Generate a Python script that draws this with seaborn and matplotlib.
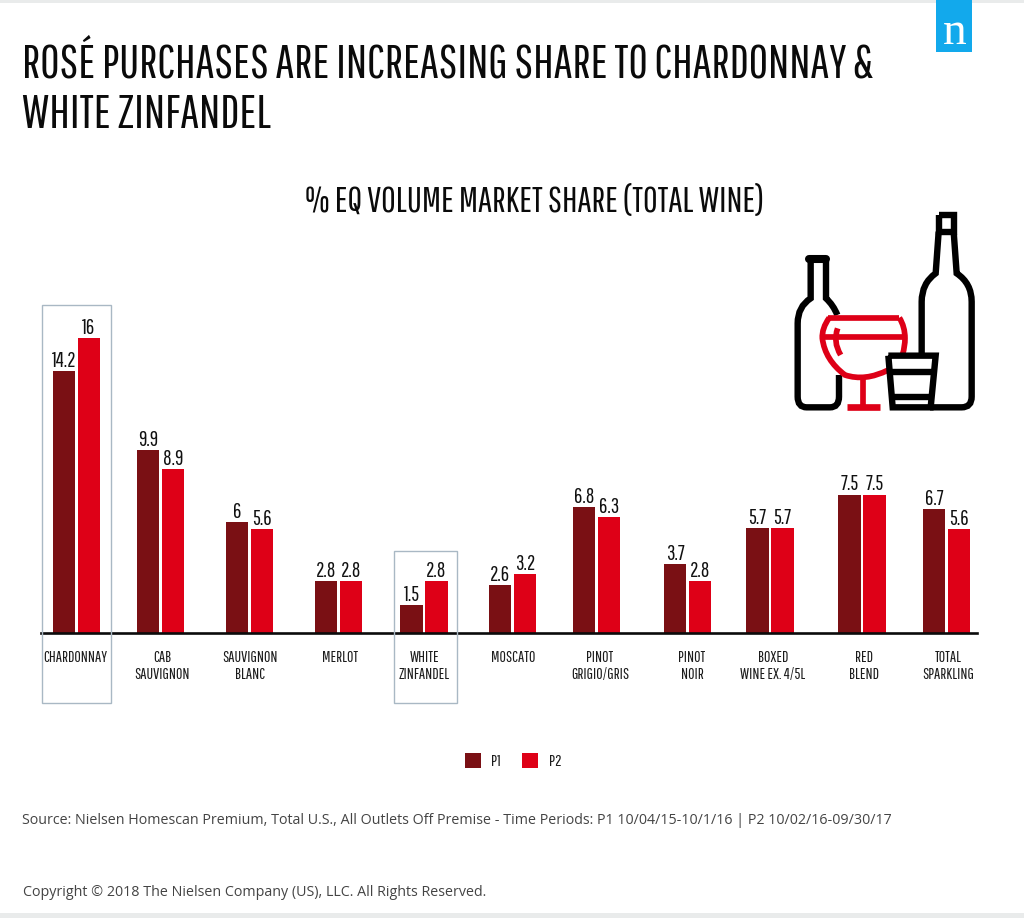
import matplotlib
matplotlib.use("Agg")
import matplotlib.pyplot as plt
from matplotlib.patches import PathPatch, Rectangle
from matplotlib.path import Path
import pandas as pd
import seaborn as sns

# ---- data ----
categories = ["CHARDONNAY", "CAB\nSAUVIGNON", "SAUVIGNON\nBLANC", "MERLOT", "WHITE\nZINFANDEL",
              "MOSCATO", "PINOT\nGRIGIO/GRIS", "PINOT\nNOIR", "BOXED\nWINE EX. 4/5L",
              "RED\nBLEND", "TOTAL\nSPARKLING"]
p1_values = [14.2, 9.9, 6, 2.8, 1.5, 2.6, 6.8, 3.7, 5.7, 7.5, 6.7]
p2_values = [16, 8.9, 5.6, 2.8, 2.8, 3.2, 6.3, 2.8, 5.7, 7.5, 5.6]
periods = ["P1", "P2"]

# ---- layout (figure pixels) ----
W, H = 1024, 918
group_centres = [76.5, 160.5, 249.5, 338.5, 424, 512.5, 596.5, 687.5, 770, 862, 946.5]
label_centres = [75, 162, 250.5, 340, 424.5, 513, 600, 692, 773, 864, 948]
AX_L, AX_R, BASE_Y, PX_PER_UNIT, YMAX = 41, 977, 632.5, 18.4, 20

sns.set_theme(style="white")
COND = ["Pathway Gothic One", "Bebas Neue", "Liberation Sans Narrow", "DejaVu Sans"]
OPEN = ["Open Sans", "DejaVu Sans"]
DARK, RED = "#7a1014", "#de0017"
BLACK = "#0b0b0b"

df = pd.DataFrame({
    "centre": group_centres * 2,
    "share": p1_values + p2_values,
    "period": [periods[0]] * len(p1_values) + [periods[1]] * len(p2_values),
})

fig = plt.figure(figsize=(W / 100, H / 100), dpi=100, facecolor="white")
ax_h = PX_PER_UNIT * YMAX
ax = fig.add_axes([AX_L / W, (H - BASE_Y) / H, (AX_R - AX_L) / W, ax_h / H])
ax.patch.set_alpha(0)

sns.barplot(data=df, x="centre", y="share", hue="period", hue_order=periods,
            palette=[DARK, RED], native_scale=True, width=50 / 82.5, gap=0.1,
            saturation=1, errorbar=None, ax=ax, linewidth=0)
ax.set_xlim(AX_L, AX_R)
ax.set_ylim(0, YMAX)
ax.set_xlabel("")
ax.set_ylabel("")
ax.set_yticks([])
ax.set_xticks(label_centres, categories)
ax.tick_params(axis="x", length=0, pad=12.5)
for lab in ax.get_xticklabels():
    lab.set_family(COND)
    lab.set_fontsize(11.3)
    lab.set_color("#1c1c1c")
    lab.set_linespacing(1.18)
for s in ["top", "left", "right"]:
    ax.spines[s].set_visible(False)
ax.spines["bottom"].set_linewidth(1.9)
ax.spines["bottom"].set_color(BLACK)

for cont in ax.containers:
    ax.bar_label(cont, fmt="%g", padding=0, family=COND, fontsize=15, color="#111111")

leg = ax.legend(loc="center", bbox_to_anchor=(513 / W, 1 - 761 / H), bbox_transform=fig.transFigure,
                ncol=2, frameon=False, handlelength=0.98, handleheight=0.98, handletextpad=0.62,
                columnspacing=1.3, prop={"family": COND, "size": 11.8}, borderpad=0)
for t in leg.get_texts():
    t.set_color("#1c1c1c")

# ---- overlay in pixel coordinates ----
ov = fig.add_axes([0, 0, 1, 1])
ov.set_xlim(0, W)
ov.set_ylim(H, 0)
ov.axis("off")

ov.add_patch(Rectangle((0, 0), W, 3, color="#e9ebeb", lw=0))
ov.add_patch(Rectangle((0, 913), W, 5, color="#e9ebeb", lw=0))

# logo
ov.add_patch(Rectangle((936, 0), 36, 52, color="#12a9ec", lw=0))
ov.text(954.5, 44, "n", family=["Liberation Serif", "DejaVu Serif"], fontsize=34, color="white",
        ha="center", va="baseline")

# titles and footnotes
for line, y in zip(["ROSÉ PURCHASES ARE INCREASING SHARE TO CHARDONNAY &", "WHITE ZINFANDEL"], [78, 128]):
    ov.text(22, y, line, family=COND, fontsize=33.9, color="#0a0a0a", va="baseline")
ov.text(534.5, 212, "% EQ VOLUME MARKET SHARE (TOTAL WINE)", family=COND, fontsize=25.6,
        color="#0a0a0a", ha="center", va="baseline")
ov.text(22, 820, "Source: Nielsen Homescan Premium, Total U.S., All Outlets Off Premise - Time Periods: "
        "P1 10/04/15-10/1/16 | P2 10/02/16-09/30/17", family=OPEN, fontsize=10.25, color="#444444", va="center")
ov.text(23, 892, "Copyright © 2018 The Nielsen Company (US), LLC. All Rights Reserved.", family=OPEN,
        fontsize=10.22, color="#444444", va="center")

# highlight boxes
BOX = "#a9b8c4"
ov.add_patch(Rectangle((41.5, 305), 69, 398, fill=False, ec=BOX, lw=1))
ov.add_patch(Rectangle((394, 551), 63, 152, fill=False, ec=BOX, lw=1))


# ---- icon, traced in the 3x crop whose origin is (770, 190) ----
def stroke(verts, codes=None, color="black", lw=4.6, cap="butt", join="miter"):
    verts = [(770 + x / 3, 190 + y / 3) for x, y in verts]
    if codes is None:
        codes = [Path.MOVETO] + [Path.LINETO] * (len(verts) - 1)
    ov.add_patch(PathPatch(Path(verts, codes), fill=False, ec=color, lw=lw, capstyle=cap, joinstyle=join))


M, L, C = Path.MOVETO, Path.LINETO, Path.CURVE3
# left bottle
stroke([(118, 207), (168, 207)], lw=5.8, cap="round")
stroke([(122, 212), (122, 325), (83, 350), (83, 400), (83, 620), (83, 652), (110, 652), (180, 652),
        (207, 652), (207, 620), (207, 555)],
       [M, L, C, C, L, C, C, L, C, C, L])
stroke([(168, 212), (168, 325), (190, 345), (202, 375)], [M, L, C, C])
# right bottle
stroke([(506, 74), (551, 74), (551, 125), (506, 125), (506, 74)])
stroke([(506, 125), (497, 250), (455, 280), (455, 335), (455, 490)], [M, L, C, C, L])
stroke([(551, 125), (560, 250), (605, 280), (605, 335), (605, 620), (605, 652), (575, 652), (480, 652)],
       [M, L, C, C, L, C, C, L])
# glass
stroke([(175, 383), (388, 383)], color=RED, lw=4.1)
stroke([(178, 383), (155, 415), (157, 445), (165, 510), (225, 555), (285, 575), (355, 540)],
       [M, C, C, C, C, C, C], color=RED, lw=4.1)
stroke([(388, 383), (405, 410), (405, 445), (405, 470), (398, 492)], [M, C, C, C, C], color=RED, lw=4.1)
stroke([(165, 441), (403, 441)], color=RED, lw=4.1)
stroke([(203, 415), (188, 455), (212, 495)], [M, C, C], color=RED, lw=4.1)
stroke([(280, 568), (280, 645)], color=RED, lw=4.1)
stroke([(230, 652), (330, 652)], color=RED, lw=4.8)
# tumbler
stroke([(355, 497), (497, 497), (482, 652), (368, 652), (355, 497)])
stroke([(360, 545), (492, 545)])
stroke([(368, 622), (486, 622)])

fig.savefig("out.png", dpi=100)
